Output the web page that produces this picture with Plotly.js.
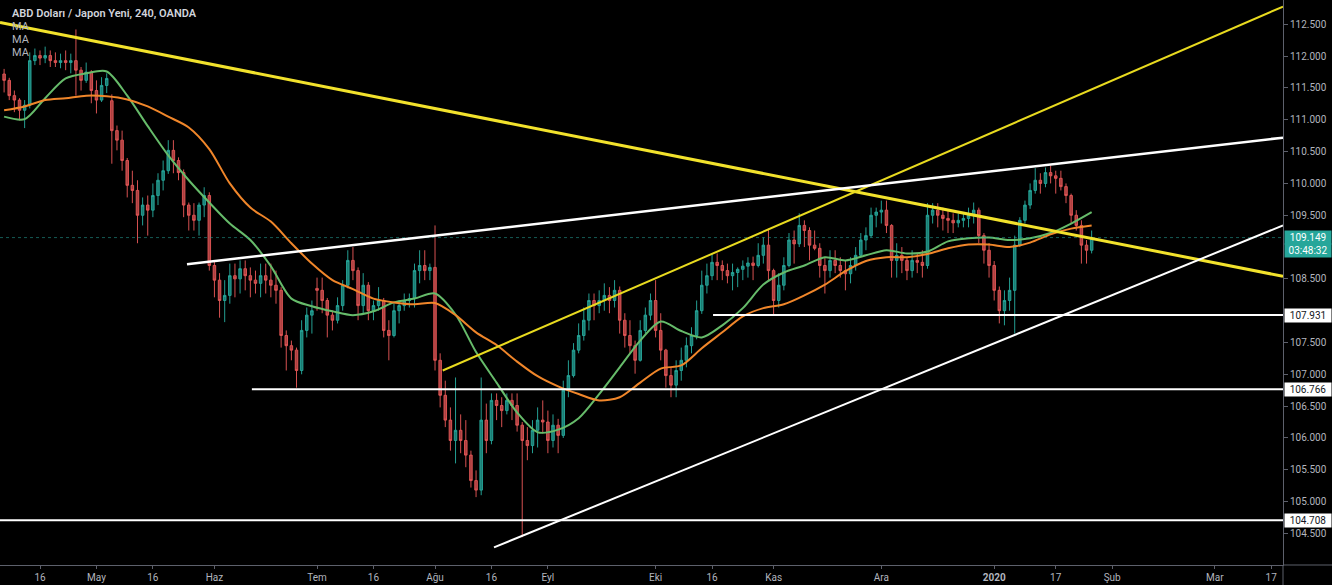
<!DOCTYPE html>
<html><head><meta charset="utf-8">
<script src="https://cdn.plot.ly/plotly-3.0.1.min.js"></script>
<style>html,body{margin:0;padding:0;background:#000;overflow:hidden}#chart{width:1332px;height:585px}</style>
</head><body><div id="chart"></div>
<script>
// ---- data (daily bars) ----
const firstDay = '2019-04-05';
const open = [
111.72,111.62,111.38,111.31,111.15,111.23,111.93,112.01,111.97,112.01,
111.93,111.90,111.93,111.90,111.93,111.78,111.62,111.75,111.46,111.31,
111.54,111.30,110.83,110.68,110.36,109.97,109.89,109.50,109.66,109.58,
109.81,110.05,110.20,110.52,110.36,110.17,109.66,109.50,109.42,109.66,
109.81,108.71,108.48,108.16,108.24,108.55,108.50,108.66,108.55,108.48,
108.43,108.55,108.48,108.40,108.32,107.61,107.45,107.38,107.06,107.69,
107.93,108.35,108.32,108.16,107.93,107.85,108.08,108.40,108.79,108.63,
108.08,108.40,108.00,108.08,108.16,107.69,107.61,108.00,108.08,108.16,
108.19,108.63,108.71,108.63,108.68,107.22,106.67,106.28,105.96,106.12,
105.96,105.73,105.33,105.18,106.28,105.96,106.59,106.51,106.43,106.59,
106.51,106.20,105.96,105.88,106.12,106.28,106.25,105.96,106.20,106.04,
106.75,106.98,107.38,107.61,107.85,108.16,108.08,108.16,108.24,108.16,
108.32,107.85,107.61,107.45,107.22,107.69,107.93,108.16,107.69,107.38,
106.98,106.83,107.06,107.22,107.45,107.61,108.00,108.40,108.55,108.76,
108.71,108.63,108.55,108.60,108.65,108.70,108.75,108.71,108.87,109.03,
108.63,108.16,108.40,108.71,109.11,109.05,109.34,109.26,109.03,108.98,
108.71,108.63,108.79,108.71,108.63,108.58,108.71,108.87,109.11,109.18,
109.50,109.55,109.58,109.34,108.79,108.87,108.79,108.63,108.79,108.76,
108.71,109.50,109.58,109.50,109.45,109.42,109.38,109.42,109.45,109.50,
109.58,109.18,108.95,108.71,108.32,108.00,108.16,108.32,109.03,109.42,
109.66,109.89,110.05,110.00,110.17,110.12,110.08,109.95,109.81,109.50,
109.34,109.03,108.95];
const high = [
111.80,111.66,111.46,111.34,111.31,112.06,112.12,112.09,112.15,112.09,
112.06,112.04,112.09,112.04,112.42,111.83,111.90,111.78,111.62,111.67,
111.73,111.40,110.91,110.83,110.40,110.20,110.05,109.78,109.81,110.00,
110.16,110.36,110.68,110.68,110.41,110.22,109.70,109.69,109.70,109.94,
109.86,108.79,108.59,108.48,108.74,108.74,108.79,108.79,108.68,108.63,
108.74,108.74,108.74,108.63,108.37,107.69,107.53,107.42,107.85,108.05,
108.16,108.52,108.52,108.20,108.00,108.21,108.48,108.95,109.00,108.68,
108.59,108.45,108.16,108.37,108.20,107.85,108.11,108.16,108.27,108.27,
108.74,108.95,108.95,108.74,109.34,107.33,106.90,106.48,106.95,106.37,
106.28,105.80,105.49,106.95,106.54,106.70,106.70,106.64,106.70,106.70,
106.70,106.25,106.17,106.28,106.48,106.59,106.43,106.37,106.30,106.90,
107.22,107.49,107.80,108.05,108.27,108.27,108.32,108.43,108.37,108.48,
108.38,107.96,107.85,107.53,107.85,108.05,108.27,108.48,107.96,107.40,
107.11,107.22,107.42,107.58,107.74,108.16,108.63,108.74,108.90,108.90,
108.79,108.74,108.74,108.68,108.79,108.84,108.85,109.06,109.15,109.29,
108.66,108.59,108.84,109.22,109.26,109.53,109.42,109.31,109.26,109.06,
108.84,108.95,108.95,108.84,108.79,108.84,109.00,109.22,109.31,109.62,
109.62,109.73,109.73,109.36,109.06,109.00,108.84,108.95,108.90,108.95,
109.69,109.69,109.69,109.62,109.58,109.53,109.53,109.53,109.62,109.70,
109.62,109.22,109.06,108.78,108.38,108.32,108.52,109.18,109.47,109.73,
110.00,110.24,110.16,110.25,110.28,110.20,110.20,110.00,109.84,109.58,
109.42,109.11,109.26];
const low = [
111.43,111.31,111.12,110.99,110.87,111.18,111.86,111.86,111.89,111.83,
111.83,111.81,111.78,111.73,111.38,111.46,111.58,111.26,111.10,111.28,
111.42,110.31,110.52,110.20,109.78,109.69,109.06,109.34,109.18,109.47,
109.66,109.89,110.15,110.16,110.05,109.47,109.26,109.26,109.18,109.47,
108.63,108.21,107.89,107.82,108.11,108.21,108.27,108.32,108.21,108.27,
108.21,108.27,108.21,108.11,107.42,107.06,107.22,106.79,107.00,107.58,
107.64,108.00,107.96,107.58,107.69,107.80,108.00,108.35,108.48,107.85,
107.96,107.85,107.85,108.00,107.58,107.22,107.58,107.80,108.00,108.05,
108.05,108.43,108.48,108.48,107.06,106.48,106.17,105.80,105.60,105.76,
105.54,105.22,105.07,105.10,105.76,105.90,106.28,106.17,106.37,106.28,
106.10,104.44,105.65,105.76,105.85,106.07,105.76,105.85,105.76,106.00,
106.64,106.95,107.33,107.53,107.69,107.85,107.96,108.00,107.96,108.05,
107.64,107.42,107.33,107.01,107.20,107.64,107.85,107.58,107.22,106.79,
106.64,106.64,106.90,107.11,107.33,107.55,107.95,108.27,108.48,108.48,
108.48,108.43,108.32,108.37,108.48,108.52,108.48,108.68,108.74,108.48,
107.93,108.05,108.32,108.68,108.74,109.00,109.00,108.79,108.95,108.52,
108.27,108.52,108.59,108.52,108.32,108.43,108.63,108.84,108.95,109.15,
109.31,109.37,109.22,108.52,108.52,108.59,108.48,108.52,108.59,108.52,
108.66,109.37,109.31,109.26,109.22,109.22,109.31,109.31,109.31,109.37,
109.06,108.74,108.52,108.16,107.80,107.77,108.00,107.64,109.00,109.37,
109.60,109.84,109.84,109.94,110.00,109.84,109.89,109.69,109.37,109.26,
108.74,108.74,108.90];
const close = [
111.62,111.38,111.31,111.15,111.23,111.93,112.01,111.97,112.01,111.93,
111.90,111.93,111.90,111.93,111.78,111.62,111.75,111.46,111.31,111.54,
111.65,110.83,110.68,110.36,109.97,109.89,109.50,109.66,109.58,109.81,
110.05,110.20,110.52,110.36,110.17,109.66,109.50,109.42,109.66,109.81,
108.71,108.48,108.16,108.24,108.55,108.50,108.66,108.55,108.48,108.43,
108.55,108.48,108.40,108.32,107.61,107.45,107.38,107.06,107.69,107.93,
108.00,108.32,108.16,107.93,107.85,108.08,108.40,108.79,108.63,108.08,
108.40,108.00,108.08,108.16,107.69,107.61,108.00,108.08,108.16,108.19,
108.63,108.71,108.63,108.68,107.22,106.67,106.28,105.96,106.12,105.96,
105.73,105.33,105.18,106.28,105.96,106.59,106.51,106.43,106.59,106.51,
106.20,105.96,105.88,106.12,106.28,106.25,105.96,106.20,106.04,106.75,
106.98,107.38,107.61,107.85,108.16,108.08,108.16,108.24,108.16,108.32,
107.85,107.61,107.45,107.22,107.69,107.93,108.16,107.69,107.38,106.98,
106.83,107.06,107.22,107.45,107.61,108.00,108.40,108.55,108.76,108.71,
108.63,108.55,108.60,108.65,108.70,108.75,108.71,108.87,109.03,108.63,
108.16,108.40,108.71,109.11,109.05,109.34,109.26,109.03,108.98,108.71,
108.63,108.79,108.71,108.63,108.58,108.71,108.87,109.11,109.18,109.50,
109.55,109.58,109.34,108.79,108.87,108.79,108.63,108.79,108.76,108.71,
109.50,109.58,109.50,109.45,109.42,109.38,109.42,109.45,109.50,109.58,
109.18,108.95,108.71,108.32,108.00,108.16,108.32,109.03,109.42,109.66,
109.89,110.05,110.00,110.17,110.12,110.08,109.95,109.81,109.50,109.34,
109.03,108.95,109.149];

// moving averages, read every 4th trading day
const maStep = 4;
const greenMA = [111.05,111.01,111.34,111.65,111.73,111.76,111.38,110.90,110.44,110.05,
109.70,109.37,109.11,108.70,108.19,108.07,107.99,107.93,107.99,108.13,
108.19,108.27,107.94,107.35,106.87,106.40,106.09,106.13,106.31,106.69,
107.11,107.53,107.83,107.68,107.58,107.77,108.04,108.41,108.60,108.71,
108.84,108.79,108.87,108.95,108.90,108.93,109.09,109.14,109.15,109.11,
109.14,109.22,109.37,109.55];
const orangeMA = [111.15,111.21,111.31,111.34,111.38,111.37,111.32,111.21,111.05,110.88,
110.54,110.00,109.62,109.40,109.06,108.74,108.48,108.34,108.19,108.13,
108.10,108.12,107.93,107.66,107.46,107.20,106.97,106.81,106.69,106.59,
106.64,106.87,107.09,107.14,107.41,107.66,107.91,108.04,108.10,108.24,
108.41,108.62,108.78,108.84,108.84,108.89,108.98,109.04,109.04,109.00,
109.07,109.20,109.29,109.34];

// axis ticks
const tickDates = ['2019-04-16','2019-05-01','2019-05-16','2019-06-03','2019-07-01','2019-07-16',
'2019-08-01','2019-08-16','2019-09-02','2019-10-01','2019-10-16','2019-11-01','2019-12-02',
'2020-01-01','2020-01-17','2020-02-03','2020-03-02','2020-03-17'];
const tickLabels = ['16','May','16','Haz','Tem','16','Ağu','16','Eyl','Eki','16','Kas','Ara',
'<b>2020</b>','17','Şub','Mar','17'];
// price scale labels visible (109.000 and 108.000 sit under the price/level tags)
const priceTicks = [104.5,105.0,105.5,106.0,106.5,107.0,107.5,108.5,109.5,110.0,110.5,111.0,111.5,112.0,112.5];

// view window
const viewStart = '2019-04-04 04:48';
const viewEnd = '2020-03-19 07:12';

// drawings: trend lines (start date, start price -> view end, end price)
const trendStart = ['2019-04-04 04:48','2019-08-02 12:00','2019-05-24 15:36','2019-08-16 12:00'];
const trendStartPrice = [112.53, 107.06, 108.73, 104.28];
const trendEndPrice = [108.54, 112.78, 110.72, 109.34];
// horizontal levels
const levels = [107.931, 106.766, 104.708];
const levelStart = ['2019-10-16 04:48','2019-06-12 07:12','2019-04-04 04:48'];
const lastPrice = 109.149;
const countdown = '03:48:32';

// ---- build ----
function businessDays(start, n) {
  const out = [];
  const d = new Date(start + 'T00:00:00Z');
  while (out.length < n) {
    const w = d.getUTCDay();
    if (w !== 0 && w !== 6) out.push(d.toISOString().slice(0, 10));
    d.setUTCDate(d.getUTCDate() + 1);
  }
  return out;
}
const days = businessDays(firstDay, close.length);
const maDays = days.filter((d, i) => i % maStep === 0);

const FONT = 'Roboto, "Open Sans", sans-serif';
const traces = [
  {type:'candlestick', x:days, open:open, high:high, low:low, close:close,
   increasing:{line:{color:'rgba(38,166,154,0.95)', width:1}, fillcolor:'rgba(38,166,154,0.75)'},
   decreasing:{line:{color:'rgba(225,85,85,0.95)', width:1}, fillcolor:'rgba(225,85,85,0.75)'},
   whiskerwidth:0, hoverinfo:'none', showlegend:false},
  {type:'scatter', mode:'lines', x:maDays, y:greenMA, line:{color:'#66bb6a', width:2, shape:'spline', smoothing:0.8}, hoverinfo:'skip', showlegend:false},
  {type:'scatter', mode:'lines', x:maDays, y:orangeMA, line:{color:'#f0862a', width:2, shape:'spline', smoothing:0.8}, hoverinfo:'skip', showlegend:false}
];

const trendStyle = [
  {color:'#f2e22c', width:3},
  {color:'#e8da1f', width:2},
  {color:'#ffffff', width:2.5},
  {color:'#ffffff', width:2}
];
const shapes = [];
// current price dotted line
shapes.push({type:'line', xref:'x', yref:'y', x0:viewStart, x1:viewEnd, y0:lastPrice, y1:lastPrice,
  line:{color:'rgba(38,166,154,0.55)', width:1, dash:'dot'}, layer:'above'});
levels.forEach((lv, i) => shapes.push({type:'line', xref:'x', yref:'y', x0:levelStart[i], x1:viewEnd,
  y0:lv, y1:lv, line:{color:'#ffffff', width:2}, layer:'above'}));
trendStart.forEach((t, i) => shapes.push({type:'line', xref:'x', yref:'y', x0:t, x1:viewEnd,
  y0:trendStartPrice[i], y1:trendEndPrice[i], line:trendStyle[i], layer:'above'}));
// axis frame continuation under the price scale
shapes.push({type:'line', xref:'paper', yref:'paper', x0:1, x1:1.04, y0:0, y1:0, line:{color:'#5d606b', width:1}});
shapes.push({type:'line', xref:'paper', yref:'paper', x0:1, x1:1, y0:0, y1:-0.04, line:{color:'#5d606b', width:1}});

const annotations = [
  {xref:'paper', yref:'paper', x:0, y:1, xanchor:'left', yanchor:'top', xshift:10, yshift:-5,
   text:'ABD Doları / Japon Yeni, 240, OANDA', showarrow:false, font:{family:FONT, size:11, color:'#d1d4dc', weight:600}},
  {xref:'paper', yref:'paper', x:0, y:1, xanchor:'left', yanchor:'top', xshift:10, yshift:-18,
   text:'MA', showarrow:false, font:{family:FONT, size:11, color:'#b2b5be'}},
  {xref:'paper', yref:'paper', x:0, y:1, xanchor:'left', yanchor:'top', xshift:10, yshift:-31,
   text:'MA', showarrow:false, font:{family:FONT, size:11, color:'#b2b5be'}},
  {xref:'paper', yref:'paper', x:0, y:1, xanchor:'left', yanchor:'top', xshift:10, yshift:-44,
   text:'MA', showarrow:false, font:{family:FONT, size:11, color:'#b2b5be'}},
  {xref:'paper', yref:'y', x:1, y:lastPrice, xanchor:'left', yanchor:'middle', xshift:1,
   text:lastPrice.toFixed(3), showarrow:false, bgcolor:'#26a69a', borderpad:1, width:44,
   font:{family:FONT, size:10, color:'#ffffff'}},
  {xref:'paper', yref:'y', x:1, y:lastPrice, xanchor:'left', yanchor:'middle', xshift:1, yshift:-13,
   text:countdown, showarrow:false, bgcolor:'#26a69a', borderpad:1, width:44,
   font:{family:FONT, size:10, color:'#ffffff'}}
];
levels.forEach(lv => annotations.push({xref:'paper', yref:'y', x:1, y:lv, xanchor:'left', yanchor:'middle', xshift:1,
  text:lv.toFixed(3), showarrow:false, bgcolor:'#ffffff', borderpad:1, width:44,
  font:{family:FONT, size:10, color:'#131722'}}));

const layout = {
  width:1332, height:585,
  paper_bgcolor:'#000000', plot_bgcolor:'#000000',
  margin:{l:0, r:49, t:0, b:20, pad:0},
  showlegend:false,
  font:{family:FONT, color:'#b2b5be'},
  xaxis:{type:'date', range:[viewStart, viewEnd], rangebreaks:[{bounds:['sat','mon']}],
    rangeslider:{visible:false}, tickmode:'array', tickvals:tickDates, ticktext:tickLabels,
    ticks:'outside', ticklen:3, tickcolor:'#5d606b', showline:true, linecolor:'#5d606b', linewidth:1,
    showgrid:false, zeroline:false, automargin:false,
    tickfont:{family:FONT, size:10, color:'#b2b5be'}},
  yaxis:{side:'right', range:[104.003, 112.883], tickmode:'array', tickvals:priceTicks,
    ticktext:priceTicks.map(v => v.toFixed(3)),
    ticks:'outside', ticklen:4, tickcolor:'#5d606b', showline:true, linecolor:'#5d606b', linewidth:1,
    showgrid:false, zeroline:false, automargin:false,
    tickfont:{family:FONT, size:10, color:'#b2b5be'}},
  shapes:shapes,
  annotations:annotations
};

Plotly.newPlot('chart', traces, layout, {displayModeBar:false, staticPlot:true});
</script>
</body></html>
